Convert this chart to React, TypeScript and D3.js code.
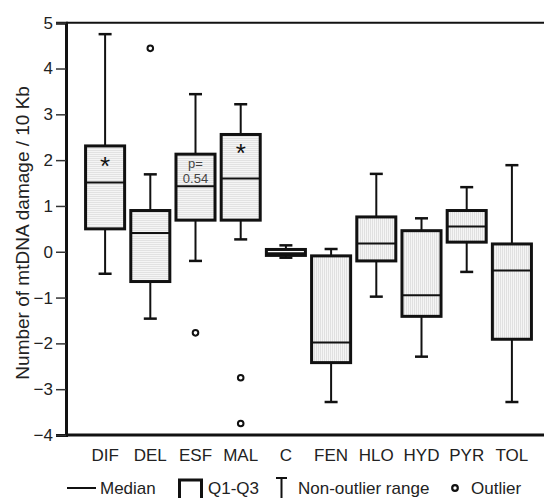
import React, { useEffect, useRef } from "react";
import * as d3 from "d3";

// data ------------------------------------------------------------
const categories = ["DIF", "DEL", "ESF", "MAL", "C", "FEN", "HLO", "HYD", "PYR", "TOL"];
const whiskerLow = [-0.48, -1.46, -0.2, 0.27, -0.13, -3.28, -0.98, -2.29, -0.44, -3.28];
const q1 = [0.5, -0.65, 0.69, 0.69, -0.08, -2.42, -0.2, -1.41, 0.21, -1.91];
const median = [1.51, 0.41, 1.43, 1.6, -0.03, -1.98, 0.18, -0.95, 0.55, -0.41];
const q3 = [2.31, 0.9, 2.13, 2.56, 0.05, -0.09, 0.76, 0.46, 0.9, 0.17];
const whiskerHigh = [4.75, 1.69, 3.44, 3.22, 0.14, 0.06, 1.7, 0.73, 1.41, 1.89];
const hatch = ["h", "h", "h", "h", "none", "v", "v", "v", "v", "v"];
const outliers = [
  { cat: "DEL", value: 4.44 },
  { cat: "ESF", value: -1.77 },
  { cat: "MAL", value: -2.75 },
  { cat: "MAL", value: -3.75 },
];
const stars = [
  { cat: "DIF", value: 1.95 },
  { cat: "MAL", value: 2.25 },
];
const pLabel = { cat: "ESF", lines: ["p=", "0.54"] };
const yTicks = [-4, -3, -2, -1, 0, 1, 2, 3, 4, 5];
const yTitle = "Number of mtDNA damage / 10 Kb";

const font = "'Liberation Sans', Arial, sans-serif";

const App = () => {
  const [width, height] = [544, 498];
  const ref = useRef<SVGSVGElement>(null);

  useEffect(() => {
    document.body.style.margin = "0";
    draw();
  }, []);

  function draw() {
    const svg = d3.select(ref.current);
    svg.selectAll("*").remove();

    const x = d3.scaleBand()
      .domain(categories)
      .range([82.5, 534.5])
      .paddingInner(0.07)
      .paddingOuter(0.035);
    const y = d3.scaleLinear().domain([-4, 5]).range([435, 22.7]);
    const bw = x.bandwidth();
    const cx = (c: string) => (x(c) as number) + bw / 2;

    // hatch patterns for box fills
    const defs = svg.append("defs");
    const ph = defs.append("pattern")
      .attr("id", "hatch-h").attr("patternUnits", "userSpaceOnUse")
      .attr("width", 4).attr("height", 2);
    ph.append("rect").attr("width", 4).attr("height", 2).attr("fill", "#f5f5f5");
    ph.append("rect").attr("width", 4).attr("height", 1).attr("fill", "#e2e2e2");
    const pv = defs.append("pattern")
      .attr("id", "hatch-v").attr("patternUnits", "userSpaceOnUse")
      .attr("width", 2).attr("height", 4);
    pv.append("rect").attr("width", 2).attr("height", 4).attr("fill", "#f5f5f5");
    pv.append("rect").attr("width", 1).attr("height", 4).attr("fill", "#e0e0e0");

    // frame: top and bottom lines run to the edge
    svg.append("line").attr("x1", 66).attr("x2", width).attr("y1", y(5)).attr("y2", y(5))
      .attr("stroke", "#111").attr("stroke-width", 2);
    svg.append("line").attr("x1", 66).attr("x2", width).attr("y1", y(-4)).attr("y2", y(-4))
      .attr("stroke", "#111").attr("stroke-width", 3);

    // y axis
    const yAxis = svg.append("g")
      .attr("transform", "translate(66,0)")
      .call(d3.axisLeft(y).tickValues(yTicks).tickSize(10).tickPadding(3).tickFormat(d3.format("d")));
    yAxis.select(".domain").attr("stroke", "#111").attr("stroke-width", 3);
    yAxis.selectAll(".tick line").attr("stroke", "#333").attr("stroke-width", 1.5);
    yAxis.selectAll("text")
      .attr("font-family", font).attr("font-size", 17).attr("fill", "#222");

    // y title
    svg.append("text")
      .attr("transform", `translate(29,${(y(5) + y(-4)) / 2 + 4}) rotate(-90)`)
      .attr("text-anchor", "middle")
      .attr("font-family", font).attr("font-size", 19).attr("fill", "#222")
      .text(yTitle);

    // x labels
    svg.append("g").selectAll("text").data(categories).join("text")
      .attr("x", (d) => cx(d))
      .attr("y", 461)
      .attr("text-anchor", "middle")
      .attr("font-family", font).attr("font-size", 17).attr("fill", "#222")
      .text((d) => d);

    // boxes
    const g = svg.append("g");
    categories.forEach((c, i) => {
      const xc = cx(c);
      const cap = 6.5;
      // whiskers
      g.append("line").attr("x1", xc).attr("x2", xc)
        .attr("y1", y(whiskerHigh[i])).attr("y2", y(q3[i]))
        .attr("stroke", "#111").attr("stroke-width", 2);
      g.append("line").attr("x1", xc).attr("x2", xc)
        .attr("y1", y(q1[i])).attr("y2", y(whiskerLow[i]))
        .attr("stroke", "#111").attr("stroke-width", 2);
      g.append("line").attr("x1", xc - cap).attr("x2", xc + cap)
        .attr("y1", y(whiskerHigh[i])).attr("y2", y(whiskerHigh[i]))
        .attr("stroke", "#111").attr("stroke-width", 2.5);
      g.append("line").attr("x1", xc - cap).attr("x2", xc + cap)
        .attr("y1", y(whiskerLow[i])).attr("y2", y(whiskerLow[i]))
        .attr("stroke", "#111").attr("stroke-width", 2.5);
      // box
      g.append("rect")
        .attr("x", (x(c) as number) + 1.5)
        .attr("width", bw - 3)
        .attr("y", y(q3[i]))
        .attr("height", y(q1[i]) - y(q3[i]))
        .attr("fill", hatch[i] === "none" ? "#fff" : `url(#hatch-${hatch[i]})`)
        .attr("stroke", "#111").attr("stroke-width", 3);
      // median
      g.append("line")
        .attr("x1", (x(c) as number) + 1.5).attr("x2", (x(c) as number) + bw - 1.5)
        .attr("y1", y(median[i])).attr("y2", y(median[i]))
        .attr("stroke", "#111").attr("stroke-width", 2);
    });

    // outliers
    g.selectAll(".outlier").data(outliers).join("circle")
      .attr("class", "outlier")
      .attr("cx", (d) => cx(d.cat))
      .attr("cy", (d) => y(d.value))
      .attr("r", 2.8)
      .attr("fill", "#fff").attr("stroke", "#111").attr("stroke-width", 2);

    // significance stars
    g.selectAll(".star").data(stars).join("text")
      .attr("class", "star")
      .attr("x", (d) => cx(d.cat))
      .attr("y", (d) => y(d.value) + 13)
      .attr("text-anchor", "middle")
      .attr("font-family", font).attr("font-size", 26).attr("fill", "#111")
      .text("*");

    // p value label
    g.append("text")
      .attr("x", cx(pLabel.cat))
      .attr("y", 168)
      .attr("text-anchor", "middle")
      .attr("font-family", font).attr("font-size", 13).attr("fill", "#444")
      .selectAll("tspan").data(pLabel.lines).join("tspan")
      .attr("x", cx(pLabel.cat))
      .attr("dy", (d, i) => (i === 0 ? 0 : 15))
      .text((d) => d);

    // legend
    const lg = svg.append("g").attr("font-family", font).attr("font-size", 17).attr("fill", "#222");
    const ly = 494;
    lg.append("line").attr("x1", 67).attr("x2", 96).attr("y1", 488).attr("y2", 488)
      .attr("stroke", "#111").attr("stroke-width", 2);
    lg.append("text").attr("x", 100).attr("y", ly).text("Median");
    lg.append("path").attr("d", `M179.5,${height + 2}V480H201.5V${height + 2}`)
      .attr("fill", "none").attr("stroke", "#111").attr("stroke-width", 3);
    lg.append("text").attr("x", 208).attr("y", ly).text("Q1-Q3");
    lg.append("path").attr("d", `M276,478H287M281.5,478V${height}`)
      .attr("fill", "none").attr("stroke", "#111").attr("stroke-width", 2);
    lg.append("text").attr("x", 298).attr("y", ly).text("Non-outlier range");
    lg.append("circle").attr("cx", 455).attr("cy", 488).attr("r", 2.8)
      .attr("fill", "#fff").attr("stroke", "#111").attr("stroke-width", 2.2);
    lg.append("text").attr("x", 471).attr("y", ly).text("Outlier");
  }

  return (
    <svg ref={ref} width={width} height={height} style={{ display: "block", background: "#fff" }}></svg>
  );
};

export default App;
